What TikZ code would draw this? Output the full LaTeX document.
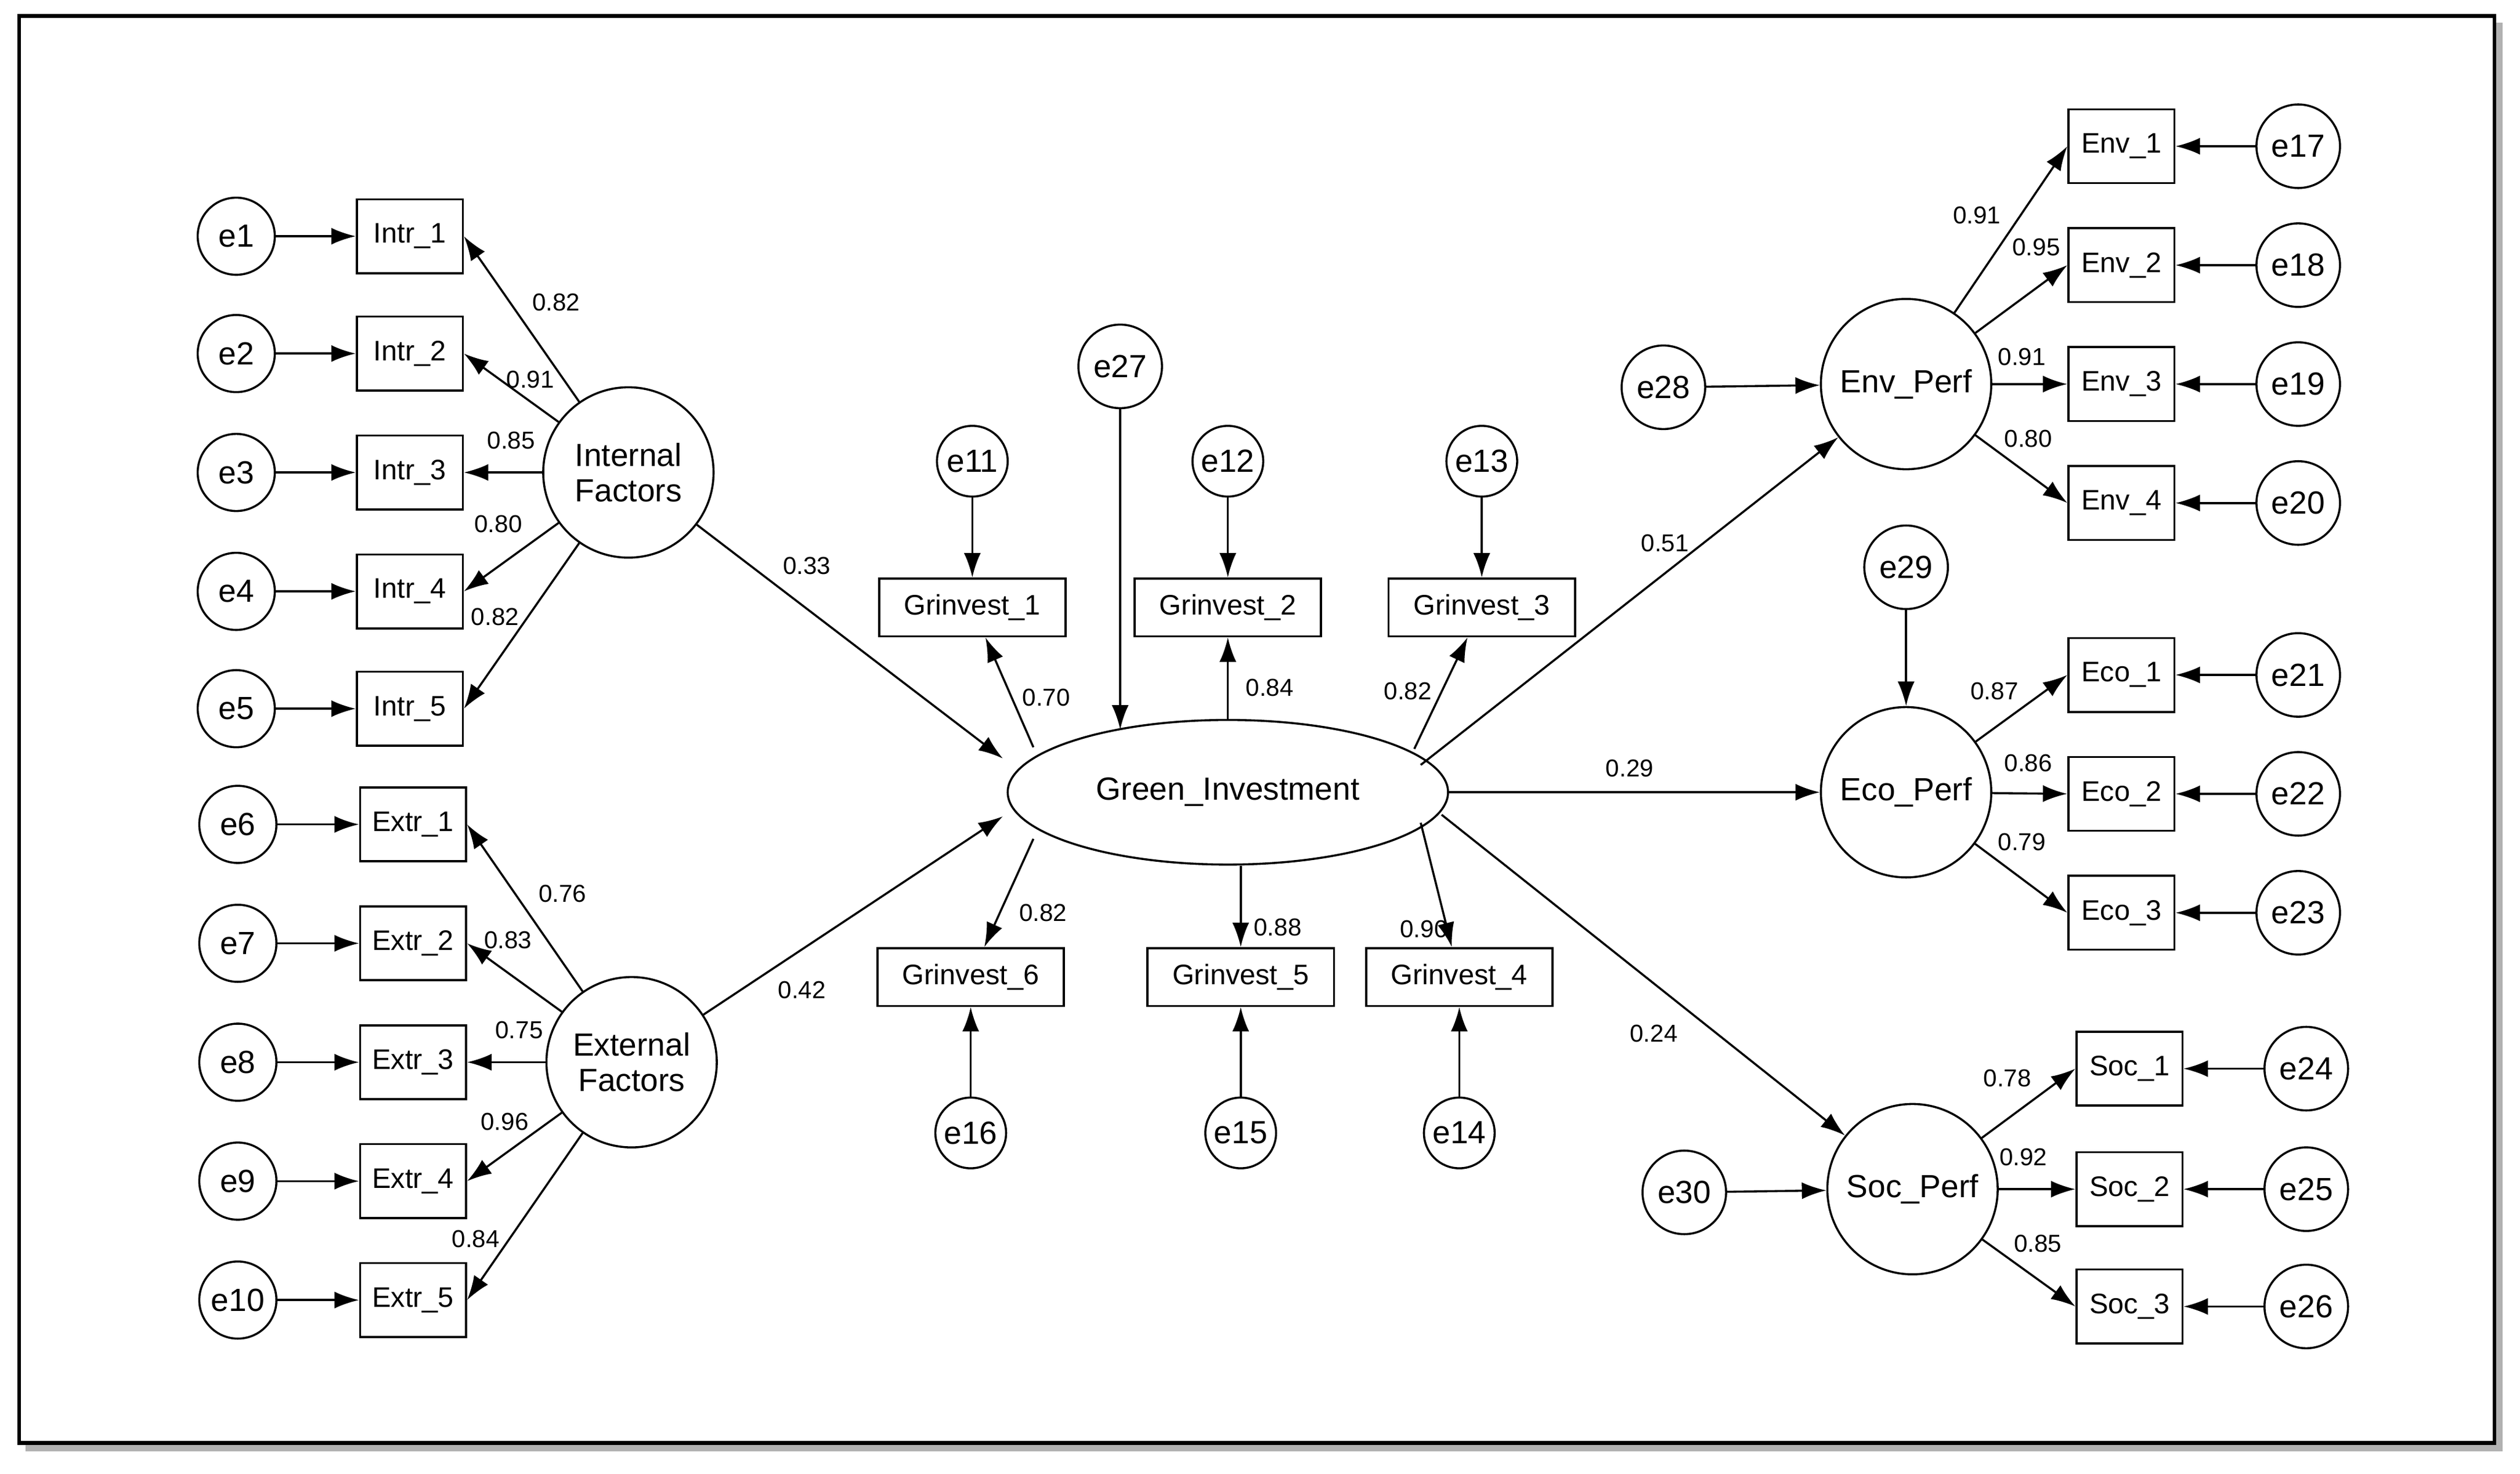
\documentclass[tikz,border=0pt]{standalone}
\usepackage{fontspec}
\setmainfont{Liberation Sans}
\usetikzlibrary{arrows.meta,shapes.geometric}
\begin{document}
\begin{tikzpicture}[x=0.03cm,y=-0.03cm,
  err/.style={circle,draw,line width=1.1pt,minimum size=48*0.03cm,inner sep=0,font=\fontsize{17}{17}\selectfont},
  obs/.style={rectangle,draw,line width=1.1pt,minimum width=66*0.03cm,minimum height=46*0.03cm,inner sep=0,font=\fontsize{15}{15}\selectfont},
  gobs/.style={rectangle,draw,line width=1.1pt,minimum width=116*0.03cm,minimum height=36*0.03cm,inner sep=0,font=\fontsize{15}{15}\selectfont},
  lat/.style={circle,draw,line width=1.1pt,minimum size=106*0.03cm,inner sep=0,align=center,font=\fontsize{17}{19}\selectfont},
  lab/.style={font=\fontsize{13}{13}\selectfont,inner sep=1pt},
  arr/.style={-{Latex[length=13pt,width=9pt]},line width=1.1pt}]
\useasboundingbox (0,0) rectangle (1568,917);
\fill[gray!60] (16,14) rectangle (1557,903);
\fill[white,draw=black,line width=2pt] (12,10) rectangle (1552,898);
% left
\node[lat] (IF) at (391,294) {Internal\\Factors};
\node[lat] (EF) at (393,661) {External\\Factors};
\foreach \i/\y in {1/147,2/220,3/294,4/368,5/441}{
  \node[err] (e\i) at (147,\y) {e\i};
  \node[obs] (I\i) at (255,\y) {Intr\_\i};
  \draw[arr] (e\i) -- (I\i);
  \draw[arr] (IF) -- (I\i.east);}
\foreach \i/\j/\y in {6/1/513,7/2/587,8/3/661,9/4/735,10/5/809}{
  \node[err] (e\i) at (148,\y) {e\i};
  \node[obs] (X\j) at (257,\y) {Extr\_\j};
  \draw[arr] (e\i) -- (X\j);
  \draw[arr] (EF) -- (X\j.east);}
\node[lab] at (346,188) {0.82};
\node[lab] at (330,236) {0.91};
\node[lab] at (318,274) {0.85};
\node[lab] at (310,326) {0.80};
\node[lab] at (308,384) {0.82};
\node[lab] at (350,556) {0.76};
\node[lab] at (316,585) {0.83};
\node[lab] at (323,641) {0.75};
\node[lab] at (314,698) {0.96};
\node[lab] at (296,771) {0.84};
% center
\node[ellipse,draw,line width=1.1pt,minimum width=274*0.03cm,minimum height=90*0.03cm,font=\fontsize{17}{17}\selectfont] (GI) at (764,493) {Green\_Investment};
\coordinate (giIF) at (624,472);
\coordinate (giEF) at (624,508);
\coordinate (gi1) at (643,465);
\coordinate (gi3) at (880,466);
\coordinate (gi6) at (643,522);
\coordinate (gi4) at (884,512);
\coordinate (giEP) at (884,476);
\coordinate (giCP) at (901,493);
\coordinate (giSP) at (897,507);
\draw[arr] (IF) -- (giIF);
\draw[arr] (EF) -- (giEF);
\node[lab] at (502,352) {0.33};
\node[lab] at (499,616) {0.42};
\node[err,minimum size=52*0.03cm] (e27) at (697,228) {e27};
\coordinate (gi27) at (697,454);
\draw[arr] (e27) -- (gi27);
\foreach \n/\x/\e in {1/605/11,2/764/12,3/922/13}{
  \node[gobs] (G\n) at (\x,378) {Grinvest\_\n};
  \node[err,minimum size=44*0.03cm] (e\e) at (\x,287) {e\e};
  \draw[arr] (e\e) -- (G\n);}
\foreach \n/\x/\e in {6/604/16,5/772/15,4/908/14}{
  \node[gobs] (G\n) at (\x,608) {Grinvest\_\n};
  \node[err,minimum size=44*0.03cm] (e\e) at (\x,705) {e\e};
  \draw[arr] (e\e) -- (G\n);}
\draw[arr] (gi1) -- (G1);
\draw[arr] (GI.north -| G2) -- (G2);
\draw[arr] (gi3) -- (G3);
\draw[arr] (gi6) -- (G6);
\draw[arr] (GI.south -| G5) -- (G5);
\draw[arr] (gi4) -- (G4);
\node[lab] at (651,434) {0.70};
\node[lab] at (790,428) {0.84};
\node[lab] at (876,430) {0.82};
\node[lab] at (649,568) {0.82};
\node[lab] at (795,577) {0.88};
\node[lab] at (886,578) {0.90};
% right
\node[lat] (EP) at (1186,239) {Env\_Perf};
\node[lat] (CP) at (1186,493) {Eco\_Perf};
\node[lat] (SP) at (1190,740) {Soc\_Perf};
\draw[arr] (giEP) -- (EP);
\draw[arr] (giCP) -- (CP);
\draw[arr] (giSP) -- (SP);
\node[lab] at (1036,338) {0.51};
\node[lab] at (1014,478) {0.29};
\node[lab] at (1029,643) {0.24};
\node[err,minimum size=52*0.03cm] (e28) at (1035,241) {e28};
\draw[arr] (e28) -- (EP);
\node[err,minimum size=52*0.03cm] (e29) at (1186,353) {e29};
\draw[arr] (e29) -- (CP);
\node[err,minimum size=52*0.03cm] (e30) at (1048,742) {e30};
\draw[arr] (e30) -- (SP);
\foreach \n/\y/\e in {1/91/17,2/165/18,3/239/19,4/313/20}{
  \node[obs] (V\n) at (1320,\y) {Env\_\n};
  \node[err,minimum size=52*0.03cm] (e\e) at (1430,\y) {e\e};
  \draw[arr] (e\e) -- (V\n);
  \draw[arr] (EP) -- (V\n.west);}
\foreach \n/\y/\e in {1/420/21,2/494/22,3/568/23}{
  \node[obs] (C\n) at (1320,\y) {Eco\_\n};
  \node[err,minimum size=52*0.03cm] (e\e) at (1430,\y) {e\e};
  \draw[arr] (e\e) -- (C\n);
  \draw[arr] (CP) -- (C\n.west);}
\foreach \n/\y/\e in {1/665/24,2/740/25,3/813/26}{
  \node[obs] (S\n) at (1325,\y) {Soc\_\n};
  \node[err,minimum size=52*0.03cm] (e\e) at (1435,\y) {e\e};
  \draw[arr] (e\e) -- (S\n);
  \draw[arr] (SP) -- (S\n.west);}
\node[lab] at (1230,134) {0.91};
\node[lab] at (1267,154) {0.95};
\node[lab] at (1258,222) {0.91};
\node[lab] at (1262,273) {0.80};
\node[lab] at (1241,430) {0.87};
\node[lab] at (1262,475) {0.86};
\node[lab] at (1258,524) {0.79};
\node[lab] at (1249,671) {0.78};
\node[lab] at (1259,720) {0.92};
\node[lab] at (1268,774) {0.85};
\end{tikzpicture}
\end{document}
